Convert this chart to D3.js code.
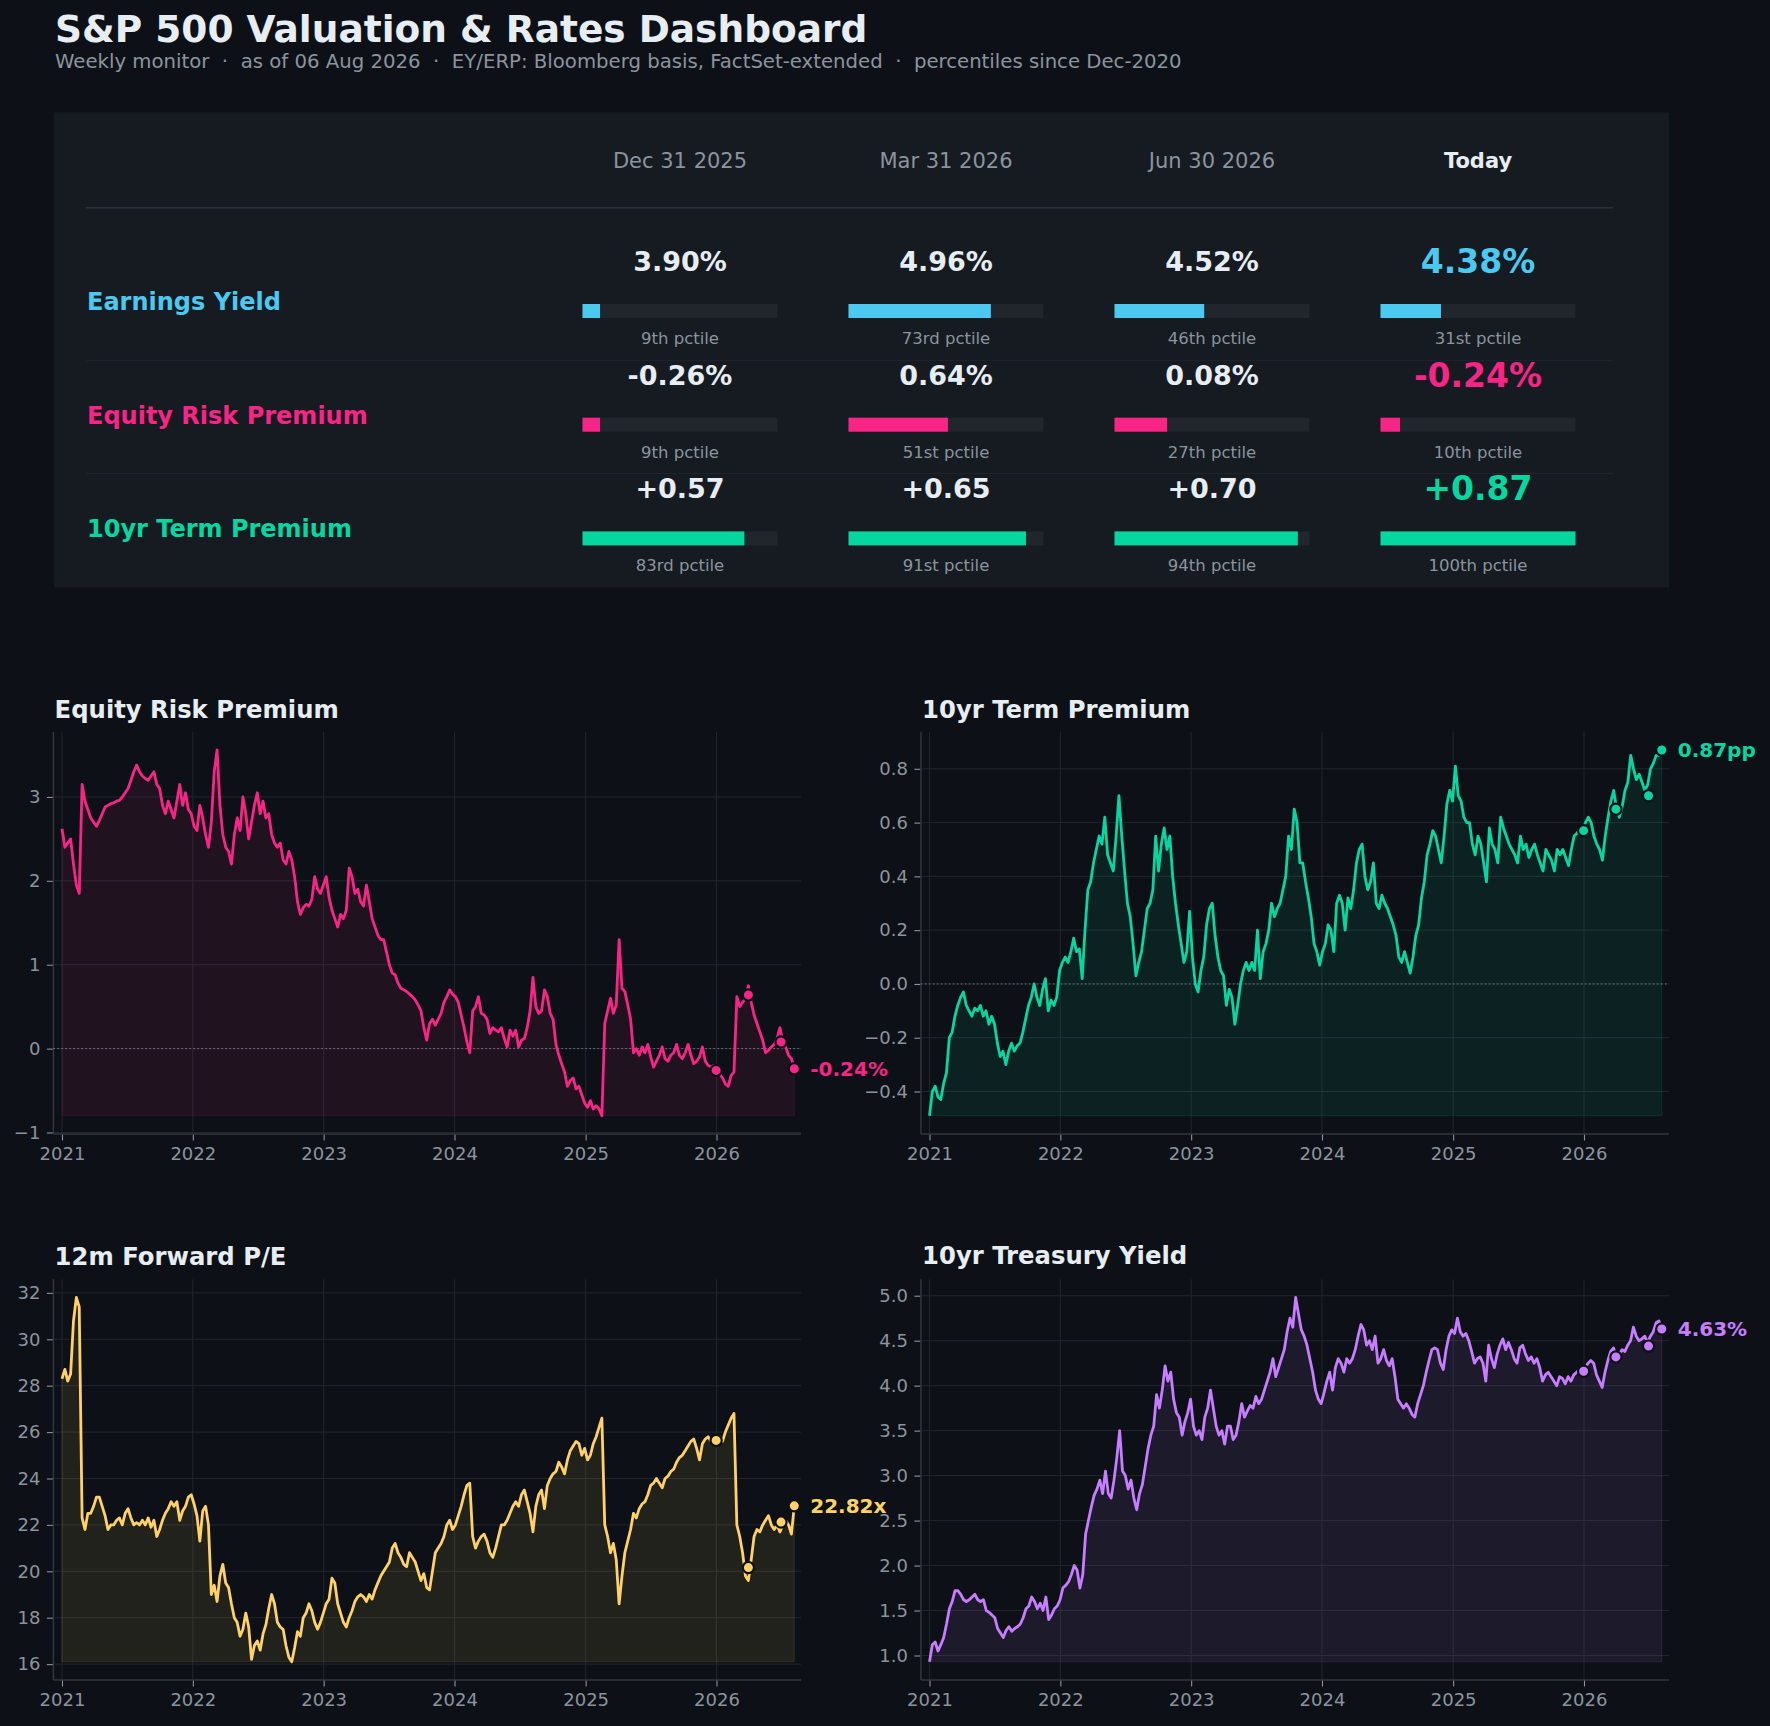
<!DOCTYPE html>
<html><head><meta charset="utf-8">
<script src="https://cdn.jsdelivr.net/npm/d3@7"></script>
<style>
html,body{margin:0;padding:0;background:#0d1117;}
svg{display:block;font-family:"DejaVu Sans",sans-serif;}
</style>
</head><body>
<svg id="c" width="1770" height="1726"></svg>
<script>
// ---------------- data ----------------
const titleText = "S&P 500 Valuation & Rates Dashboard";
const subtitleText = "Weekly monitor  \u00b7  as of 06 Aug 2026  \u00b7  EY/ERP: Bloomberg basis, FactSet-extended  \u00b7  percentiles since Dec-2020";
const columns = ["Dec 31 2025", "Mar 31 2026", "Jun 30 2026", "Today"];
const snapshotDates = ["2025-12-31", "2026-03-31", "2026-06-30", "2026-08-06"];
const metrics = ["Earnings Yield", "Equity Risk Premium", "10yr Term Premium"];
const eyValues = [3.90, 4.96, 4.52, 4.38];
const eyPctiles = [9, 73, 46, 31];
const erpValues = [-0.26, 0.64, 0.08, -0.24];
const erpPctiles = [9, 51, 27, 10];
const tpValues = [0.57, 0.65, 0.70, 0.87];
const tpPctiles = [83, 91, 94, 100];
const peMarks = [25.64, 20.16, 22.12, 22.82];
const ustMarks = [4.16, 4.32, 4.44, 4.63];
const seriesStart = "2021-01-01";
const seriesEnd = "2026-08-06";
const yearTicks = [2021, 2022, 2023, 2024, 2025, 2026];
const erpTicks = [-1, 0, 1, 2, 3];
const tpTicks = [-0.4, -0.2, 0.0, 0.2, 0.4, 0.6, 0.8];
const peTicks = [16, 18, 20, 22, 24, 26, 28, 30, 32];
const ustTicks = [1.0, 1.5, 2.0, 2.5, 3.0, 3.5, 4.0, 4.5, 5.0];

const erpSeries = [2.62,2.40,2.45,2.50,2.20,1.95,1.85,3.15,2.95,2.85,
2.75,2.70,2.65,2.72,2.80,2.88,2.90,2.92,2.93,2.95,
2.96,3.00,3.05,3.10,3.20,3.30,3.38,3.30,3.25,3.22,
3.20,3.25,3.30,3.15,3.10,2.90,2.80,2.95,2.85,2.75,
2.95,3.15,2.90,3.05,2.85,2.80,2.65,2.60,2.90,2.75,
2.55,2.40,2.70,3.30,3.56,2.90,2.55,2.40,2.35,2.20,
2.55,2.75,2.60,3.00,2.80,2.50,2.70,2.90,3.05,2.80,
2.95,2.75,2.80,2.55,2.45,2.40,2.45,2.25,2.20,2.35,
2.25,2.05,1.75,1.60,1.68,1.72,1.70,1.78,2.05,1.90,
1.85,1.95,2.05,1.80,1.65,1.55,1.45,1.60,1.55,1.65,
2.15,2.05,1.85,1.90,1.75,1.70,1.95,1.75,1.55,1.45,
1.35,1.30,1.30,1.15,1.00,0.90,0.88,0.78,0.72,0.70,
0.68,0.65,0.62,0.58,0.52,0.45,0.25,0.10,0.30,0.35,
0.28,0.35,0.42,0.55,0.62,0.70,0.65,0.62,0.55,0.40,
0.25,0.08,-0.05,0.45,0.50,0.62,0.42,0.40,0.35,0.18,
0.25,0.22,0.20,0.25,0.12,0.02,0.22,0.15,0.22,0.02,
0.10,0.12,0.25,0.45,0.85,0.50,0.42,0.45,0.70,0.62,
0.42,0.35,0.05,-0.08,-0.18,-0.28,-0.45,-0.38,-0.35,-0.48,
-0.45,-0.55,-0.65,-0.70,-0.62,-0.72,-0.68,-0.72,-0.80,0.30,
0.45,0.60,0.42,0.52,1.30,0.72,0.68,0.52,0.35,-0.05,
0.00,-0.08,0.02,-0.05,0.05,-0.10,-0.22,-0.15,-0.08,0.02,
-0.12,-0.15,-0.08,-0.05,0.05,-0.08,-0.12,-0.05,0.05,-0.08,
-0.18,-0.15,-0.10,0.02,-0.15,-0.20,-0.22,-0.20,-0.26,-0.30,
-0.35,-0.42,-0.45,-0.32,-0.28,0.62,0.50,0.55,0.60,0.75,
0.55,0.40,0.30,0.20,0.10,-0.05,-0.02,0.02,0.05,0.12,
0.25,0.08,0.02,-0.08,-0.12,-0.24];

const tpSeries = [-0.49,-0.40,-0.38,-0.42,-0.43,-0.37,-0.33,-0.20,-0.18,-0.12,
-0.08,-0.05,-0.03,-0.08,-0.10,-0.12,-0.09,-0.10,-0.08,-0.12,
-0.10,-0.15,-0.12,-0.15,-0.22,-0.27,-0.25,-0.30,-0.25,-0.22,
-0.25,-0.23,-0.22,-0.18,-0.13,-0.08,-0.05,0.00,-0.05,-0.08,
-0.02,0.02,-0.10,-0.06,-0.08,-0.05,0.05,0.08,0.10,0.08,
0.12,0.17,0.12,0.13,0.02,0.20,0.35,0.38,0.45,0.50,
0.55,0.52,0.62,0.48,0.45,0.42,0.55,0.70,0.55,0.42,
0.30,0.25,0.15,0.03,0.08,0.12,0.20,0.28,0.30,0.35,
0.55,0.42,0.52,0.58,0.50,0.55,0.40,0.30,0.22,0.15,
0.08,0.12,0.27,0.10,0.00,-0.03,0.05,0.10,0.22,0.28,
0.30,0.18,0.10,0.05,0.03,-0.08,-0.02,-0.05,-0.15,-0.08,
0.00,0.05,0.08,0.05,0.08,0.05,0.20,0.02,0.12,0.15,
0.20,0.30,0.25,0.28,0.30,0.35,0.40,0.55,0.50,0.65,
0.60,0.45,0.45,0.38,0.32,0.25,0.15,0.12,0.07,0.12,
0.15,0.22,0.20,0.12,0.30,0.33,0.30,0.20,0.32,0.28,
0.35,0.45,0.50,0.52,0.40,0.35,0.38,0.45,0.30,0.28,
0.33,0.30,0.28,0.25,0.22,0.18,0.10,0.08,0.12,0.08,
0.04,0.10,0.18,0.22,0.32,0.38,0.48,0.52,0.57,0.55,
0.50,0.45,0.55,0.67,0.72,0.68,0.81,0.70,0.68,0.62,
0.60,0.60,0.52,0.48,0.55,0.52,0.45,0.38,0.58,0.52,
0.50,0.45,0.62,0.58,0.55,0.52,0.50,0.48,0.45,0.55,
0.50,0.52,0.47,0.50,0.52,0.48,0.45,0.42,0.50,0.48,
0.46,0.42,0.50,0.48,0.50,0.47,0.44,0.50,0.55,0.56,
0.58,0.57,0.60,0.62,0.60,0.55,0.52,0.50,0.46,0.55,
0.62,0.68,0.72,0.65,0.62,0.66,0.72,0.75,0.85,0.80,
0.76,0.78,0.75,0.72,0.74,0.80,0.82,0.85,0.85,0.87];

const peSeries = [28.3,28.7,28.2,28.5,30.8,31.8,31.4,22.3,21.8,22.5,
22.5,22.8,23.2,23.2,22.8,22.4,21.8,22.0,22.0,22.2,
22.3,22.0,22.5,22.7,22.3,22.0,22.1,22.0,22.2,22.0,
22.3,21.9,22.2,21.5,21.8,22.2,22.5,22.7,23.0,22.8,
23.0,22.2,22.6,22.8,23.2,23.3,22.9,22.4,21.3,22.6,
22.8,22.0,19.0,19.4,18.7,19.8,20.3,19.5,19.3,18.6,
18.0,17.8,17.2,17.5,18.2,17.6,16.2,16.8,17.0,16.6,
17.3,17.7,18.4,19.0,18.6,17.8,17.6,17.5,16.8,16.3,
16.1,16.7,17.4,17.2,18.0,18.2,18.6,18.3,17.8,17.5,
17.8,18.2,18.6,18.8,19.7,19.5,18.6,18.2,17.8,17.6,
18.0,18.3,18.7,18.9,19.0,18.9,18.7,19.0,18.8,19.2,
19.5,19.8,20.0,20.2,20.4,21.0,21.2,20.8,20.6,20.3,
20.2,20.8,20.6,20.4,20.0,19.6,19.9,19.3,19.2,20.0,
20.8,21.0,21.2,21.5,22.0,22.2,21.8,22.0,22.4,22.8,
23.3,23.7,23.8,21.5,21.0,21.3,21.5,21.6,21.3,20.8,
20.6,21.0,21.5,22.0,22.0,22.2,22.5,22.8,23.0,22.8,
23.3,23.5,23.0,22.5,21.7,22.8,23.3,23.5,22.7,23.7,
24.0,24.2,24.3,24.7,24.5,24.2,24.8,25.2,25.4,25.6,
25.5,25.0,25.3,24.8,25.0,25.5,25.8,26.2,26.6,22.0,
21.5,20.8,21.2,20.5,18.6,19.8,20.8,21.3,21.8,22.5,
22.3,22.7,22.9,23.0,23.3,23.7,23.8,24.0,23.8,23.6,
24.0,24.1,24.3,24.4,24.7,24.9,25.0,25.2,25.4,25.6,
25.7,25.3,24.8,25.5,25.7,25.8,25.6,25.7,25.6,25.8,
25.6,26.0,26.3,26.6,26.8,22.0,21.5,20.8,19.8,19.6,
20.5,21.5,21.8,21.7,22.0,22.2,22.4,22.0,21.8,22.0,
21.7,22.0,22.2,22.0,21.6,22.82];

const ustSeries = [0.93,1.12,1.15,1.05,1.12,1.20,1.35,1.52,1.60,1.72,
1.72,1.68,1.62,1.60,1.62,1.65,1.68,1.62,1.60,1.62,
1.50,1.48,1.45,1.42,1.30,1.25,1.20,1.28,1.32,1.27,
1.30,1.32,1.35,1.42,1.52,1.55,1.65,1.60,1.52,1.58,
1.50,1.65,1.40,1.45,1.52,1.55,1.62,1.75,1.78,1.82,
1.90,2.00,1.95,1.75,1.90,2.35,2.50,2.65,2.78,2.85,
2.95,2.80,3.05,2.80,2.75,2.95,3.20,3.50,3.05,3.00,
2.85,2.95,2.75,2.62,2.80,2.90,3.10,3.30,3.45,3.55,
3.90,3.75,3.95,4.22,4.05,4.15,3.85,3.70,3.65,3.45,
3.60,3.70,3.85,3.55,3.45,3.50,3.40,3.65,3.75,3.95,
3.75,3.55,3.45,3.50,3.35,3.55,3.55,3.40,3.45,3.60,
3.80,3.65,3.72,3.78,3.75,3.88,3.80,3.85,3.95,4.05,
4.15,4.30,4.10,4.20,4.30,4.40,4.60,4.75,4.65,4.98,
4.80,4.62,4.55,4.45,4.30,4.15,3.95,3.85,3.80,3.92,
4.05,4.15,3.95,4.20,4.30,4.25,4.15,4.30,4.25,4.30,
4.40,4.55,4.68,4.62,4.45,4.50,4.40,4.55,4.25,4.30,
4.40,4.28,4.22,4.30,4.10,3.85,3.80,3.75,3.80,3.75,
3.68,3.65,3.80,3.90,4.00,4.15,4.28,4.40,4.42,4.40,
4.25,4.18,4.40,4.55,4.62,4.58,4.75,4.60,4.55,4.58,
4.50,4.38,4.25,4.30,4.32,4.25,4.05,4.45,4.30,4.20,
4.35,4.45,4.52,4.40,4.48,4.40,4.30,4.25,4.42,4.45,
4.35,4.28,4.32,4.25,4.30,4.20,4.05,4.12,4.15,4.10,
4.05,4.00,4.10,4.08,4.02,4.10,4.05,4.12,4.15,4.18,
4.16,4.20,4.25,4.28,4.25,4.12,4.05,3.98,4.15,4.28,
4.38,4.42,4.32,4.35,4.40,4.38,4.45,4.50,4.65,4.55,
4.50,4.52,4.55,4.48,4.55,4.60,4.70,4.72,4.63];

// ---------------- styling ----------------
const BG = "#0d1117", PANEL = "#161b22", FG = "#e6edf3", MUTED = "#8b949e";
const GRID = "#21262d", TRACK = "#21262d", SPINE = "#30363d";
const C_EY = "#4cc9f0", C_ERP = "#f72585", C_TP = "#06d6a0", C_PE = "#ffd166", C_UST = "#c77dff";

const parse = d3.utcParse("%Y-%m-%d");
const svg = d3.select("#c");
svg.append("rect").attr("width", 1770).attr("height", 1726).attr("fill", BG);

// header
svg.append("text").attr("x", 55).attr("y", 42).attr("font-size", 37.5).attr("font-weight", "bold")
  .attr("fill", FG).text(titleText);
svg.append("text").attr("x", 55).attr("y", 68).attr("font-size", 19.7).attr("fill", MUTED)
  .attr("xml:space", "preserve").style("white-space", "pre").text(subtitleText);

// ---------------- table ----------------
svg.append("rect").attr("x", 54).attr("y", 112.5).attr("width", 1615).attr("height", 475).attr("fill", PANEL);

const colX = d3.scalePoint().domain(columns).range([680, 1478]);
const rowOff = d3.scalePoint().domain(metrics).range([0, 227.4]);
const barW = d3.scaleLinear().domain([0, 100]).range([0, 195]);

const head = svg.append("g");
head.selectAll("text").data(columns).join("text")
  .attr("x", d => colX(d)).attr("y", 168).attr("text-anchor", "middle")
  .attr("font-size", 21)
  .attr("font-weight", (d, i) => i === columns.length - 1 ? "bold" : "normal")
  .attr("fill", (d, i) => i === columns.length - 1 ? FG : MUTED)
  .text(d => d);
svg.append("line").attr("x1", 86).attr("x2", 1613).attr("y1", 207.7).attr("y2", 207.7)
  .attr("stroke", "#2a3038").attr("stroke-width", 1.6);
[360.3, 473.6].forEach(y => svg.append("line").attr("x1", 86).attr("x2", 1613).attr("y1", y).attr("y2", y)
  .attr("stroke", "#20252d").attr("stroke-width", 1));

function ordinal(n) {
  const s = ["th", "st", "nd", "rd"], v = n % 100;
  return n + (s[(v - 20) % 10] || s[v] || s[0]);
}
const tableRows = [
  {name: metrics[0], color: C_EY, vals: eyValues, pct: eyPctiles, fmt: v => v.toFixed(2) + "%"},
  {name: metrics[1], color: C_ERP, vals: erpValues, pct: erpPctiles, fmt: v => v.toFixed(2) + "%"},
  {name: metrics[2], color: C_TP, vals: tpValues, pct: tpPctiles, fmt: v => (v >= 0 ? "+" : "") + v.toFixed(2)}
];
tableRows.forEach(r => {
  const off = rowOff(r.name);
  const g = svg.append("g").attr("transform", `translate(0,${off})`);
  g.append("text").attr("x", 87).attr("y", 310).attr("font-size", 24).attr("font-weight", "bold")
    .attr("fill", r.color).text(r.name);
  columns.forEach((c, i) => {
    const cx = colX(c), last = i === columns.length - 1;
    g.append("text").attr("x", cx).attr("y", last ? 273 : 271).attr("text-anchor", "middle")
      .attr("font-size", last ? 33 : 27).attr("font-weight", "bold")
      .attr("fill", last ? r.color : FG).text(r.fmt(r.vals[i]));
    g.append("rect").attr("x", cx - 97.5).attr("y", 304).attr("width", barW(100)).attr("height", 14).attr("fill", TRACK);
    g.append("rect").attr("x", cx - 97.5).attr("y", 304).attr("width", barW(r.pct[i])).attr("height", 14).attr("fill", r.color);
    g.append("text").attr("x", cx).attr("y", 344).attr("text-anchor", "middle")
      .attr("font-size", 16.5).attr("fill", MUTED).text(ordinal(r.pct[i]) + " pctile");
  });
});

// ---------------- charts ----------------
const t0 = parse(seriesStart), t1 = parse(seriesEnd);
function seriesDates(n) {
  const s = d3.scaleLinear().domain([0, n - 1]).range([t0.getTime(), t1.getTime()]);
  return d3.range(n).map(i => new Date(s(i)));
}
const snaps = snapshotDates.map(parse);

const panels = [
  {title: "Equity Risk Premium", series: erpSeries, marks: erpValues, color: C_ERP, ticks: erpTicks,
   fmt: d3.format("d"), label: v => v.toFixed(2) + "%", x0: 53.4, x1: 801, top: 731.7, bottom: 1134, zero: true, tb: 718},
  {title: "10yr Term Premium", series: tpSeries, marks: tpValues, color: C_TP, ticks: tpTicks,
   fmt: d3.format(".1f"), label: v => v.toFixed(2) + "pp", x0: 920.9, x1: 1669, top: 731.7, bottom: 1134, zero: true, tb: 718},
  {title: "12m Forward P/E", series: peSeries, marks: peMarks, color: C_PE, ticks: peTicks,
   fmt: d3.format("d"), label: v => v.toFixed(2) + "x", x0: 53.4, x1: 801, top: 1279.3, bottom: 1680, zero: false, tb: 1265},
  {title: "10yr Treasury Yield", series: ustSeries, marks: ustMarks, color: C_UST, ticks: ustTicks,
   fmt: d3.format(".1f"), label: v => v.toFixed(2) + "%", x0: 920.9, x1: 1669, top: 1279.3, bottom: 1680, zero: false, tb: 1264}
];

panels.forEach(p => {
  const g = svg.append("g");
  const dates = seriesDates(p.series.length);
  const data = dates.map((d, i) => ({d, v: p.series[i]}));
  const x = d3.scaleUtc()
    .domain([new Date(Date.UTC(2021, 0, 1)), new Date(Date.UTC(2026, 0, 1))])
    .range([p.x0 + 8.6, p.x0 + 8.6 + 654.5]);
  const all = p.series.concat(p.marks);
  const lo = d3.min(all), hi = d3.max(all), pad = (hi - lo) * 0.05;
  const y = d3.scaleLinear().domain([lo - pad, hi + pad]).range([p.bottom, p.top]);
  const dataMin = d3.min(p.series);

  // title
  g.append("text").attr("x", p.x0 + 1.2).attr("y", p.tb).attr("font-size", 24.3).attr("font-weight", "bold")
    .attr("fill", FG).text(p.title);

  // grid
  const yearDates = yearTicks.map(yr => new Date(Date.UTC(yr, 0, 1)));
  g.append("g").selectAll("line").data(yearDates).join("line")
    .attr("x1", d => x(d)).attr("x2", d => x(d)).attr("y1", p.top).attr("y2", p.bottom)
    .attr("stroke", GRID).attr("stroke-width", 1);
  g.append("g").selectAll("line").data(p.ticks).join("line")
    .attr("x1", p.x0).attr("x2", p.x1).attr("y1", d => y(d)).attr("y2", d => y(d))
    .attr("stroke", GRID).attr("stroke-width", 1);

  // axes
  const yAxis = d3.axisLeft(y).tickValues(p.ticks).tickFormat(p.fmt).tickSize(6.5).tickPadding(6.5);
  const ya = g.append("g").attr("transform", `translate(${p.x0},0)`).call(yAxis);
  const xAxis = d3.axisBottom(x).tickValues(yearDates).tickFormat(d3.utcFormat("%Y")).tickSize(6.5).tickPadding(7);
  const xa = g.append("g").attr("transform", `translate(0,${p.bottom})`).call(xAxis);
  [ya, xa].forEach(a => {
    a.select(".domain").remove();
    a.selectAll(".tick line").attr("stroke", MUTED).attr("stroke-width", 1.1);
    a.selectAll(".tick text").attr("fill", MUTED).attr("font-size", 18).attr("font-family", "DejaVu Sans");
  });
  xa.selectAll(".tick text").attr("dy", "0.71em");
  // spines
  g.append("line").attr("x1", p.x0).attr("x2", p.x0).attr("y1", p.top).attr("y2", p.bottom)
    .attr("stroke", SPINE).attr("stroke-width", 1.5);
  g.append("line").attr("x1", p.x0).attr("x2", p.x1).attr("y1", p.bottom).attr("y2", p.bottom)
    .attr("stroke", SPINE).attr("stroke-width", 1.5);

  // fill
  const area = d3.area().x(d => x(d.d)).y0(y(dataMin)).y1(d => y(d.v));
  g.append("path").datum(data).attr("d", area).attr("fill", p.color).attr("fill-opacity", 0.09)
    .attr("stroke", p.color).attr("stroke-opacity", 0.12).attr("stroke-width", 1);

  // zero line
  if (p.zero) {
    g.append("line").attr("x1", p.x0).attr("x2", p.x1).attr("y1", y(0)).attr("y2", y(0))
      .attr("stroke", MUTED).attr("stroke-width", 1).attr("stroke-dasharray", "1.5,2.5").attr("opacity", 0.8);
  }

  // line
  const line = d3.line().x(d => x(d.d)).y(d => y(d.v));
  g.append("path").datum(data).attr("d", line).attr("fill", "none").attr("stroke", p.color)
    .attr("stroke-width", 2.8).attr("stroke-linejoin", "round");

  // markers
  g.append("g").selectAll("circle").data(p.marks).join("circle")
    .attr("cx", (d, i) => x(snaps[i])).attr("cy", d => y(d)).attr("r", 5.6)
    .attr("fill", p.color).attr("stroke", BG).attr("stroke-width", 2.2);

  // today label
  const last = p.marks[p.marks.length - 1];
  g.append("text").attr("x", x(snaps[snaps.length - 1]) + 16).attr("y", y(last)).attr("dy", "0.36em")
    .attr("font-size", 20).attr("font-weight", "bold").attr("fill", p.color).text(p.label(last));
});
</script>
</body></html>
